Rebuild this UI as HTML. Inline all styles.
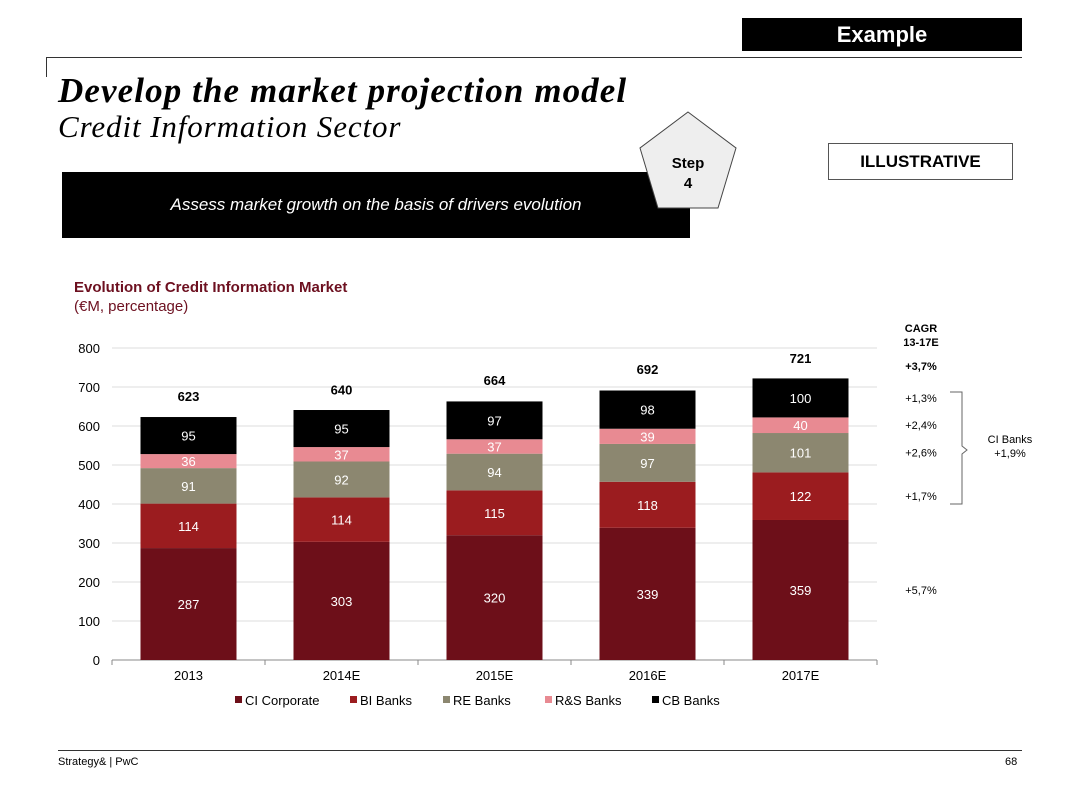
<!DOCTYPE html>
<html><head><meta charset="utf-8">
<style>
body{margin:0;width:1080px;height:810px;background:#fff;position:relative;overflow:hidden;font-family:"Liberation Sans",sans-serif}
.abs{position:absolute}
</style></head>
<body>
<div class="abs" style="left:742px;top:18px;width:280px;height:33px;background:#000;color:#fff;font-weight:bold;font-size:22px;line-height:33px;text-align:center">Example</div>
<div class="abs" style="left:46px;top:57px;width:976px;height:1px;background:#333"></div>
<div class="abs" style="left:46px;top:57px;width:1px;height:20px;background:#333"></div>
<div class="abs" style="left:58px;top:71px;font-family:'Liberation Serif',serif;font-style:italic;font-weight:bold;font-size:35px;letter-spacing:1.1px;white-space:nowrap">Develop the market projection model</div>
<div class="abs" style="left:58px;top:109px;font-family:'Liberation Serif',serif;font-style:italic;font-size:31px;letter-spacing:0.9px;white-space:nowrap">Credit Information Sector</div>
<div class="abs" style="left:62px;top:172px;width:628px;height:66px;background:#000;color:#fff;font-style:italic;font-size:17px;line-height:66px;text-align:center">Assess market growth on the basis of drivers evolution</div>
<svg class="abs" style="left:636px;top:110px" width="104" height="102"><polygon points="52,2 100,38 82,98 22,98 4,38" fill="#eee" stroke="#444" stroke-width="1"/><text x="52" y="58" text-anchor="middle" font-weight="bold" font-size="15" font-family="Liberation Sans">Step</text><text x="52" y="78" text-anchor="middle" font-weight="bold" font-size="15" font-family="Liberation Sans">4</text></svg>
<div class="abs" style="left:828px;top:143px;width:183px;height:35px;border:1px solid #555;font-weight:bold;font-size:17px;line-height:35px;text-align:center">ILLUSTRATIVE</div>
<div class="abs" style="left:74px;top:279px;color:#6d1020;font-weight:bold;font-size:15px">Evolution of Credit Information Market</div>
<div class="abs" style="left:74px;top:298px;color:#6d1020;font-size:15px">(€M, percentage)</div>
<svg id="chart" class="abs" style="left:0;top:0" width="1080" height="810"></svg>
<div class="abs" style="left:58px;top:750px;width:964px;height:1px;background:#333"></div>
<div class="abs" style="left:58px;top:756px;font-size:11px">Strategy&amp; | PwC</div>
<div class="abs" style="left:1005px;top:756px;font-size:11px">68</div>
<script>
const categories=["2013","2014E","2015E","2016E","2017E"];
const ciCorporate=[287,303,320,339,359];
const biBanks=[114,114,115,118,122];
const reBanks=[91,92,94,97,101];
const rsBanks=[36,37,37,39,40];
const cbBanks=[95,95,97,98,100];
const totals=[623,640,664,692,721];
const yTicks=[0,100,200,300,400,500,600,700,800];
const seriesNames=["CI Corporate","BI Banks","RE Banks","R&S Banks","CB Banks"];
const cagrLabels=["+5,7%","+1,7%","+2,6%","+2,4%","+1,3%"];
const cagrTotal="+3,7%";

const series=[ciCorporate,biBanks,reBanks,rsBanks,cbBanks];
const colors=["#6d0f19","#9b1c1f","#8c8770","#e88a92","#000"];
const labelColors=["#fff","#fff","#fff","#fff","#fff"];
const svg=document.getElementById('chart');
const NS="http://www.w3.org/2000/svg";
const x0=112,x1=877,yBase=660,yTop=348,yMax=800;
const band=(x1-x0)/categories.length,bw=96;
const y=v=>yBase-(v/yMax)*(yBase-yTop);
const xc=i=>x0+band*(i+0.5);
function mk(tag,attrs,text){const e=document.createElementNS(NS,tag);for(const k in attrs)e.setAttribute(k,attrs[k]);if(text!==undefined)e.textContent=text;svg.appendChild(e);return e;}
yTicks.forEach(t=>{
  const g=mk('line',{x1:x0,x2:x1,y1:y(t),y2:y(t),stroke:t===0?'#888':'#ddd','stroke-width':1});
  
  
  const l=mk('text',{x:100,y:y(t)+5,'text-anchor':'end','font-size':13,'font-family':'Liberation Sans'},t);
  
  
});
for(let i=0;i<=categories.length;i++){
  const tk=mk('line',{x1:x0+band*i,x2:x0+band*i,y1:yBase,y2:yBase+5,stroke:'#888'});
  
  
}
categories.forEach((c,i)=>{
  let cum=0;
  series.forEach((s,j)=>{
    const v=s[i];
    const r=mk('rect',{x:xc(i)-bw/2,y:y(cum+v),width:bw,height:y(cum)-y(cum+v),fill:colors[j]});
    
    
    const t=mk('text',{x:xc(i),y:y(cum+v/2)+5,'text-anchor':'middle','font-size':13,fill:labelColors[j],'font-family':'Liberation Sans'},v);
    
    
    cum+=v;
  });
  const tt=mk('text',{x:xc(i),y:y(totals[i])-16,'text-anchor':'middle','font-size':13,'font-weight':'bold','font-family':'Liberation Sans'},totals[i]);
  
  
  const xl=mk('text',{x:xc(i),y:680,'text-anchor':'middle','font-size':13,'font-family':'Liberation Sans'},c);
  
  
});
const legX=[235,350,443,545,652];
seriesNames.forEach((n,j)=>{
  const r=mk('rect',{x:legX[j],y:696,width:7,height:7,fill:colors[j]});
  
  
  const t=mk('text',{x:legX[j]+10,y:705,'font-size':13,'font-family':'Liberation Sans'},n);
  
  
});
const h1=mk('text',{x:921,y:332,'text-anchor':'middle','font-size':11,'font-weight':'bold','font-family':'Liberation Sans'},'CAGR');


const h2=mk('text',{x:921,y:346,'text-anchor':'middle','font-size':11,'font-weight':'bold','font-family':'Liberation Sans'},'13-17E');


const ct=mk('text',{x:921,y:370,'text-anchor':'middle','font-size':11,'font-weight':'bold','font-family':'Liberation Sans'},cagrTotal);


let cum=0;const last=categories.length-1;
cagrLabels.forEach((l,j)=>{
  const v=series[j][last];
  const t=mk('text',{x:921,y:y(cum+v/2)+4,'text-anchor':'middle','font-size':11,'font-family':'Liberation Sans'},l);
  
  
  cum+=v;
});
const br=mk('path',{d:'M950,392 H962 V446 L967,450 L962,454 V504 H950',fill:'none',stroke:'#666','stroke-width':1});


const b1=mk('text',{x:1010,y:443,'text-anchor':'middle','font-size':11,'font-family':'Liberation Sans'},'CI Banks');


const b2=mk('text',{x:1010,y:457,'text-anchor':'middle','font-size':11,'font-family':'Liberation Sans'},'+1,9%');


</script>
</body></html>
